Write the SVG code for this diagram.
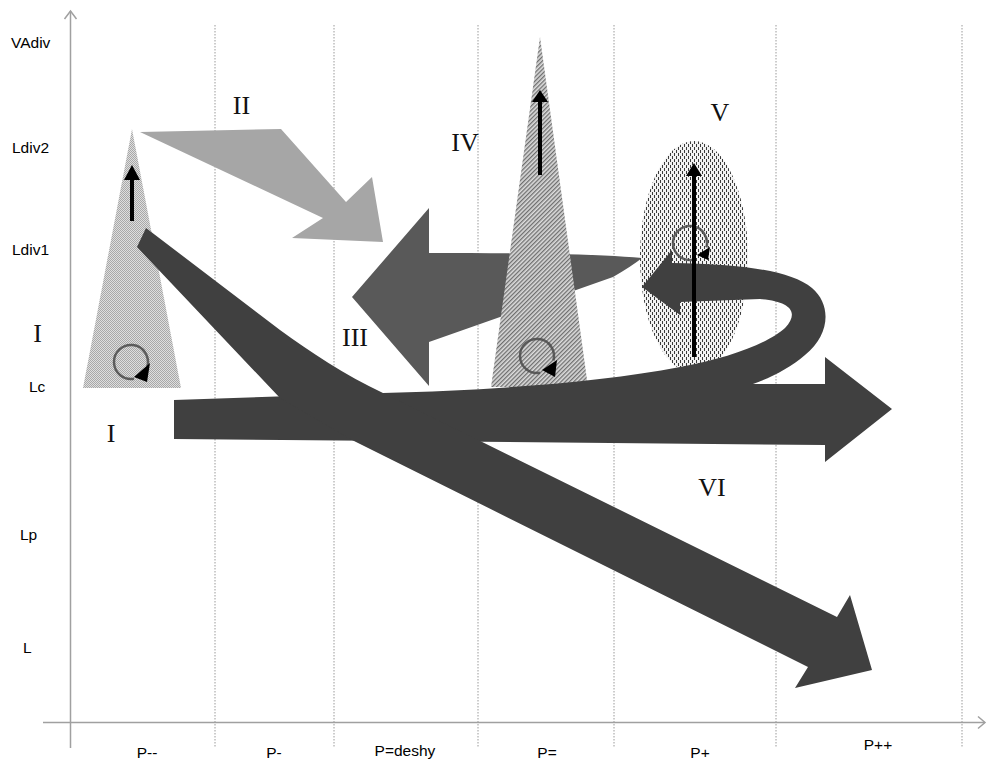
<svg xmlns="http://www.w3.org/2000/svg" width="987" height="760" viewBox="0 0 987 760">
<style>
.grid{stroke:#9a9a9a;stroke-width:1;stroke-dasharray:1.5,1.5;fill:none}
.axis{stroke:#a0a0a0;stroke-width:1.5;fill:none}
.lab{font-family:"Liberation Sans","Open Sans",sans-serif;font-size:15.5px;fill:#000}
.rom{font-family:"Liberation Serif","Times New Roman",serif;font-size:26px;fill:#111}
.dark{fill:#404040}
.ring{fill:none;stroke:#4a4a4a;stroke-width:2.5;opacity:0.85}
.blk{stroke:#000;stroke-width:4;fill:none}
</style>
<defs>
<pattern id="dots" width="2" height="2" patternUnits="userSpaceOnUse">
<rect width="2" height="2" fill="#dedede"/>
<rect width="1" height="1" fill="#a8a8a8"/>
<rect x="1" y="1" width="1" height="1" fill="#a8a8a8"/>
</pattern>
<pattern id="hatch" width="3" height="3" patternUnits="userSpaceOnUse" patternTransform="rotate(45)">
<rect width="3" height="3" fill="#dcdcdc"/>
<rect width="1.3" height="3" fill="#6e6e6e"/>
</pattern>
<pattern id="dash" width="4" height="6" patternUnits="userSpaceOnUse">
<rect width="4" height="6" fill="#f2f2f2"/>
<rect x="0" y="0" width="1" height="3" fill="#3a3a3a"/>
<rect x="2" y="3" width="1" height="3" fill="#3a3a3a"/>
</pattern>
</defs>

<g id="grid">
<line class="grid" x1="215" y1="25" x2="215" y2="748"/>
<line class="grid" x1="334" y1="25" x2="334" y2="748"/>
<line class="grid" x1="478" y1="25" x2="478" y2="748"/>
<line class="grid" x1="614" y1="25" x2="614" y2="748"/>
<line class="grid" x1="776" y1="25" x2="776" y2="748"/>
<line class="grid" x1="962" y1="25" x2="962" y2="748"/>
</g>
<g id="axes">
<line class="axis" x1="70.5" y1="11" x2="70.5" y2="748"/>
<polyline class="axis" points="64.5,19 70.5,11 76.5,19"/>
<line class="axis" x1="43" y1="722.5" x2="985" y2="722.5"/>
<polyline class="axis" points="978,716.5 985,722.5 978,728.5"/>
</g>

<g id="node-I">
<polygon points="132,129 83,388 181,388" fill="url(#dots)"/>
</g>
<g id="node-III">
<path d="M352,297 L429,208 L429,253 C 520,253 600,254 642,258 Q 632,266 613,277 L429,342 L429,386 Z" fill="#595959"/>
</g>
<g id="node-IV">
<polygon points="540,37 491,387 588,387" fill="url(#hatch)"/>
</g>
<g id="node-V">
<ellipse cx="694" cy="257" rx="54" ry="116" fill="url(#dash)"/>
</g>
<g id="node-II">
<polygon points="140,132 281,129 346,202 372,177 383,242 292,238 323,218" fill="#a6a6a6"/>
</g>

<g id="connectors">
<path class="dark" d="M174,400 L383,393 C 500,390 600,382 680,367 C 730,358 770,342 785,328 C 800,312 790,301 760,299 L680,302 L680,315 L642,287 L672,250 L672,263 C 740,264 790,270 812,288 C 832,305 830,335 805,355 C 790,368 770,378 753,384 L825,384 L825,357 L892,409 L825,462 L825,445 L174,439 Z"/>
<path class="dark" d="M146,228 L280,330 C 310,352 345,375 383,393 L837,617 L850,595 L872,670 L795,688 L808,667 L352,440 L280,398 L137,247 Z"/>
</g>

<g id="icons">
<path class="ring" d="M147.4,366.4 A17,17 0 1 0 134,378.7"/>
<polygon points="150,363 147,382 134,377" fill="#000"/>
<path class="ring" d="M553.4,360.4 A17,17 0 1 0 540,372.7"/>
<polygon points="557,360 555,377 542,370" fill="#000"/>
<path class="ring" d="M706.4,247.4 A17,17 0 1 0 693,259.7"/>
<polygon points="710,247 708,260 697,255" fill="#000"/>
</g>
<g id="arrows">
<line class="blk" x1="132" y1="221" x2="132" y2="178"/>
<polygon points="124,180 140,180 132,165" fill="#000"/>
<line class="blk" x1="540" y1="175" x2="540" y2="100"/>
<polygon points="532,102 548,102 540,90" fill="#000"/>
<line class="blk" x1="694" y1="357" x2="694" y2="174"/>
<polygon points="686,176 702,176 694,163" fill="#000"/>
</g>

<g id="labels">
<text class="lab" x="11" y="48">VAdiv</text>
<text class="lab" x="12" y="153">Ldiv2</text>
<text class="lab" x="12" y="255">Ldiv1</text>
<text class="lab" x="29" y="392">Lc</text>
<text class="lab" x="20" y="540">Lp</text>
<text class="lab" x="23" y="653">L</text>
<text class="lab" x="147" y="758" text-anchor="middle">P--</text>
<text class="lab" x="274" y="758" text-anchor="middle">P-</text>
<text class="lab" x="405" y="756" text-anchor="middle">P=deshy</text>
<text class="lab" x="547" y="758" text-anchor="middle">P=</text>
<text class="lab" x="700" y="758" text-anchor="middle">P+</text>
<text class="lab" x="878" y="750" text-anchor="middle">P++</text>
<text class="rom" x="37.5" y="342" text-anchor="middle" font-size="32">I</text>
<text class="rom" x="111" y="442" text-anchor="middle" font-size="28">I</text>
<text class="rom" x="241.5" y="114" text-anchor="middle">II</text>
<text class="rom" x="355" y="346" text-anchor="middle">III</text>
<text class="rom" x="465" y="151" text-anchor="middle">IV</text>
<text class="rom" x="720" y="121" text-anchor="middle">V</text>
<text class="rom" x="712" y="496" text-anchor="middle">VI</text>
</g>
</svg>
